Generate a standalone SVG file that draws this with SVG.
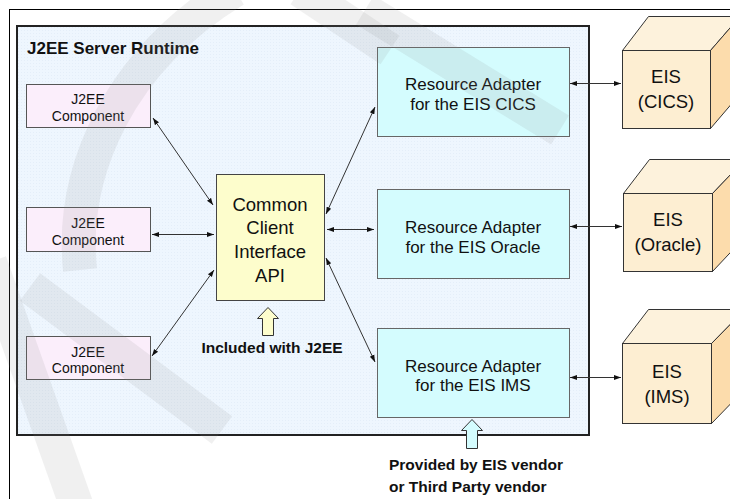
<svg xmlns="http://www.w3.org/2000/svg" width="730" height="499" viewBox="0 0 730 499">
<defs>
<marker id="ah" viewBox="0 0 10 10" refX="10" refY="5" markerWidth="7" markerHeight="7" markerUnits="userSpaceOnUse" orient="auto-start-reverse">
<path d="M0,1.5 L10,5 L0,8.5 Z" fill="#111"/>
</marker>
<pattern id="dots" width="3" height="3" patternUnits="userSpaceOnUse">
<rect width="3" height="3" fill="#eef6fe"/>
<rect width="1" height="1" fill="#e4eef9"/>
</pattern>
</defs>
<style>
text{font-family:"Liberation Sans",Arial,sans-serif;fill:#111;text-anchor:middle}
.comp rect{fill:#fbeefb;stroke:#555;stroke-width:1}
.comp text{font-size:14px}
.ra rect{fill:#d4fcfe;stroke:#666;stroke-width:1}
.ra text{font-size:17px}
.eis .front{fill:#fdeed2;stroke:#333;stroke-width:1}
.eis .top{fill:#fdf2dc;stroke:#333;stroke-width:1}
.eis .side{fill:#fcdcac;stroke:#333;stroke-width:1}
.eis text{font-size:18.5px}
.lbl{font-weight:bold;font-size:15.5px}
#connectors line{stroke:#333;stroke-width:1;marker-start:url(#ah);marker-end:url(#ah)}
.wm{fill:none;stroke:#8a8a8a;stroke-opacity:0.13;stroke-width:34}
</style>
<rect x="0" y="0" width="730" height="499" fill="#fff"/>
<rect x="9.5" y="9.5" width="740" height="520" fill="none" stroke="#000" stroke-width="1"/>
<g id="runtime">
<rect x="17" y="26" width="572" height="409" fill="url(#dots)" stroke="#222" stroke-width="2"/>
<text x="27" y="54" style="text-anchor:start;font-weight:bold;font-size:17px">J2EE Server Runtime</text>
</g>
<g id="comp1" class="comp"><rect x="26.5" y="84.5" width="124" height="43"/><text x="88" y="104">J2EE</text><text x="88" y="121">Component</text></g>
<g id="comp2" class="comp"><rect x="26.5" y="207.5" width="124" height="44"/><text x="88" y="228">J2EE</text><text x="88" y="245">Component</text></g>
<g id="comp3" class="comp"><rect x="26.5" y="336.5" width="124" height="43"/><text x="88" y="357">J2EE</text><text x="88" y="373">Component</text></g>
<g id="cci">
<rect x="216.5" y="174.5" width="108" height="126" fill="#fdfdcc" stroke="#444" stroke-width="1"/>
<text x="270" y="211" style="font-size:18.5px">Common</text>
<text x="270" y="234" style="font-size:18.5px">Client</text>
<text x="270" y="258" style="font-size:18.5px">Interface</text>
<text x="270" y="282" style="font-size:18.5px">API</text>
</g>
<g id="ra1" class="ra"><rect x="377.5" y="47.5" width="192" height="89"/><text x="473" y="90">Resource Adapter</text><text x="473" y="110">for the EIS CICS</text></g>
<g id="ra2" class="ra"><rect x="377.5" y="189.5" width="192" height="89"/><text x="473" y="233">Resource Adapter</text><text x="473" y="253">for the EIS Oracle</text></g>
<g id="ra3" class="ra"><rect x="377.5" y="328.5" width="192" height="89"/><text x="473" y="372">Resource Adapter</text><text x="473" y="391">for the EIS IMS</text></g>
<g id="eis1" class="eis">
<polygon class="top" points="622.5,50.5 648.5,16.5 740,16.5 710.5,50.5"/>
<polygon class="side" points="710.5,50.5 740,16.5 740,94 710.5,128.5"/>
<rect class="front" x="622.5" y="50.5" width="88" height="78"/>
<text x="666" y="83">EIS</text><text x="666" y="108">(CICS)</text>
</g>
<g id="eis2" class="eis">
<polygon class="top" points="623.5,193.5 649.5,159.5 745,159.5 712.5,193.5"/>
<polygon class="side" points="712.5,193.5 745,159.5 745,237 712.5,271.5"/>
<rect class="front" x="623.5" y="193.5" width="89" height="78"/>
<text x="668" y="226">EIS</text><text x="668" y="251">(Oracle)</text>
</g>
<g id="eis3" class="eis">
<polygon class="top" points="622.5,343.5 648.5,309.5 745,309.5 711.5,343.5"/>
<polygon class="side" points="711.5,343.5 745,309.5 745,389 711.5,423.5"/>
<rect class="front" x="622.5" y="343.5" width="89" height="80"/>
<text x="667" y="378">EIS</text><text x="667" y="403">(IMS)</text>
</g>
<g id="connectors">
<line x1="153" y1="118" x2="213" y2="205"/>
<line x1="152" y1="234.5" x2="214" y2="234.5"/>
<line x1="152" y1="356" x2="214" y2="270"/>
<line x1="326" y1="214" x2="375" y2="107"/>
<line x1="327" y1="229.5" x2="374" y2="229.5"/>
<line x1="326" y1="258" x2="375" y2="362"/>
<line x1="570" y1="83.5" x2="621" y2="83.5"/>
<line x1="570" y1="226.5" x2="622" y2="226.5"/>
<line x1="570" y1="377.5" x2="621" y2="377.5"/>
</g>
<g id="included">
<path d="M268,307.5 L278.5,318.5 L273.5,318.5 L273.5,335.5 L262.5,335.5 L262.5,318.5 L257.5,318.5 Z" fill="#fdfdcc" stroke="#333" stroke-width="1"/>
<text class="lbl" x="272" y="353">Included with J2EE</text>
</g>
<g id="provided">
<path d="M472,419.5 L482.5,430.5 L477.5,430.5 L477.5,448.5 L466.5,448.5 L466.5,430.5 L461.5,430.5 Z" fill="#d4fcfe" stroke="#333" stroke-width="1"/>
<text class="lbl" x="389" y="470" style="text-anchor:start">Provided by EIS vendor</text>
<text class="lbl" x="389" y="492" style="text-anchor:start">or Third Party vendor</text>
</g>
<g id="watermark">
<line class="wm" x1="-10" y1="262" x2="78" y2="510"/>
<line class="wm" x1="30" y1="287" x2="222" y2="430"/>
<path class="wm" d="M235,-10 C120,60 70,170 80,270"/>
<line class="wm" x1="365" y1="10" x2="560" y2="130"/>
<line class="wm" x1="300" y1="-10" x2="390" y2="50"/>
</g>
</svg>
